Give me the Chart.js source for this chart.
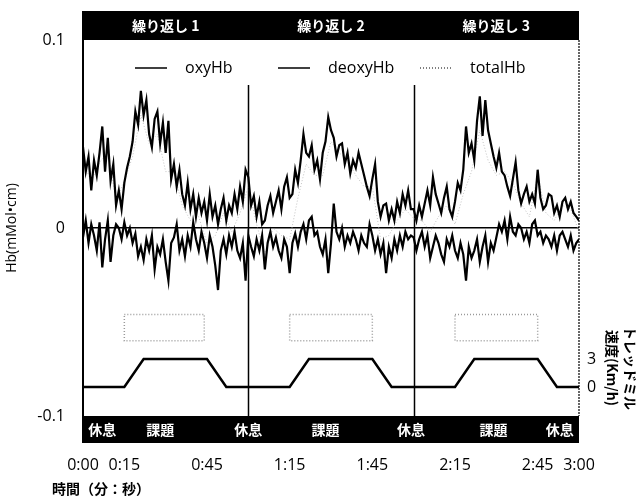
<!DOCTYPE html>
<html>
<head>
<meta charset="utf-8">
<script src="https://cdn.jsdelivr.net/npm/chart.js@4.4.1/dist/chart.umd.min.js"></script>
<style>
  html, body { margin: 0; padding: 0; background: #fff; }
  #wrap { width: 643px; height: 499px; }
</style>
</head>
<body>
<div id="wrap"><canvas id="hb_graph" width="643" height="499"></canvas></div>
<script>
// ---- data ----
// one sample per second, 0:00 .. 3:00
const oxyHb = [
  0.043, 0.030, 0.038, 0.020, 0.036, 0.028, 0.040, 0.054, 0.030, 0.048,
  0.025, 0.034, 0.012, 0.020, 0.010, 0.024, 0.032, 0.038, 0.046, 0.062,
  0.055, 0.073, 0.060, 0.068, 0.050, 0.043, 0.058, 0.062, 0.045, 0.056,
  0.040, 0.057, 0.026, 0.034, 0.022, 0.031, 0.018, 0.012, 0.024, 0.010,
  0.018, 0.006, 0.016, 0.008, 0.014, 0.004, 0.018, 0.006, 0.012, 0.002,
  0.010, 0.016, 0.004, 0.012, 0.008, 0.018, 0.010, 0.022, 0.014, 0.031,
  0.027, 0.012, 0.017, 0.006, 0.014, 0.002, 0.004, 0.012, 0.017, 0.008,
  0.014, 0.020, 0.010, 0.022, 0.027, 0.016, 0.018, 0.031, 0.024, 0.036,
  0.050, 0.040, 0.038, 0.044, 0.031, 0.036, 0.026, 0.040, 0.046, 0.059,
  0.052, 0.048, 0.038, 0.044, 0.045, 0.034, 0.040, 0.029, 0.036, 0.032,
  0.040, 0.034, 0.028, 0.022, 0.017, 0.026, 0.034, 0.014, 0.006, 0.012,
  0.013, 0.004, 0.010, 0.004, 0.014, 0.008, 0.018, 0.012, 0.020, 0.010,
  0.010, 0.004, 0.012, 0.006, 0.013, 0.020, 0.012, 0.027, 0.018, 0.013,
  0.008, 0.016, 0.022, 0.010, 0.006, 0.014, 0.024, 0.020, 0.031, 0.054,
  0.040, 0.045, 0.036, 0.057, 0.070, 0.049, 0.068, 0.052, 0.045, 0.038,
  0.032, 0.040, 0.030, 0.028, 0.022, 0.017, 0.026, 0.035, 0.020, 0.013,
  0.018, 0.022, 0.014, 0.018, 0.013, 0.031, 0.016, 0.010, 0.012, 0.018,
  0.017, 0.008, 0.012, 0.006, 0.014, 0.016, 0.010, 0.014, 0.008, 0.006,
  0.004
];
const deoxyHb = [
  -0.005, 0.004, -0.008, 0.002, -0.004, -0.012, 0.003, -0.021, -0.006, 0.004,
  -0.018, -0.004, 0.002, 0.000, -0.006, 0.003, -0.004, 0.000, -0.008, -0.003,
  -0.015, -0.010, -0.017, -0.006, -0.012, -0.004, -0.022, -0.010, -0.014, -0.006,
  -0.018, -0.028, -0.008, -0.005, 0.002, -0.012, -0.006, -0.015, -0.004, -0.010,
  0.003, -0.006, -0.012, -0.002, -0.008, -0.016, -0.004, -0.010, -0.020, -0.033,
  -0.012, -0.006, -0.014, -0.004, -0.010, -0.002, -0.012, -0.016, -0.008, -0.028,
  -0.004, -0.010, -0.015, -0.006, -0.012, -0.004, -0.022, -0.008, -0.002, -0.010,
  -0.005, -0.012, -0.016, -0.006, -0.010, -0.024, -0.008, -0.003, -0.010, -0.002,
  0.002, -0.006, 0.004, 0.006, -0.004, -0.002, -0.010, -0.014, -0.006, -0.024,
  -0.008, 0.013, -0.002, -0.006, 0.000, -0.010, -0.004, -0.008, -0.002, -0.006,
  -0.012, -0.004, -0.008, -0.010, 0.002, -0.004, -0.012, -0.006, -0.014, -0.008,
  -0.024, -0.010, -0.016, -0.006, -0.012, -0.004, -0.010, -0.002, -0.006, -0.004,
  -0.005, -0.012, -0.006, -0.002, -0.010, -0.004, -0.016, -0.010, -0.004, -0.008,
  -0.014, -0.018, -0.006, -0.010, -0.004, -0.012, -0.016, -0.008, -0.014, -0.028,
  -0.010, -0.016, -0.012, -0.006, -0.018, -0.010, -0.004, -0.018, -0.008, -0.012,
  -0.005, 0.002, -0.002, 0.004, -0.006, 0.006, -0.002, -0.004, 0.002, 0.000,
  -0.006, -0.002, -0.008, 0.002, 0.004, -0.004, -0.002, -0.008, -0.004, -0.006,
  -0.010, -0.004, -0.012, -0.004, -0.002, -0.006, -0.010, -0.004, -0.012, -0.008,
  -0.006
];
// totalHb, one sample every 3 s (faint dotted trace)
const totalTimes = [
  0, 3, 6, 9, 12, 15, 18, 21, 24, 27, 30, 33, 36, 39, 42, 45, 48, 51, 54, 57,
  60, 63, 66, 69, 72, 75, 78, 81, 84, 87, 90, 93, 96, 99, 102, 105, 108, 111, 114, 117,
  120, 123, 126, 129, 132, 135, 138, 141, 144, 147, 150, 153, 156, 159, 162, 165, 168, 171, 174, 177, 180
];
const totalHb = [
  0.035, 0.025, 0.035, 0.040, 0.015, 0.025, 0.038, 0.060, 0.045, 0.050,
  0.030, 0.030, 0.012, 0.004, 0.006, -0.008, -0.004, 0.008, -0.002, 0.008,
  0.022, 0.002, -0.014, 0.000, -0.004, -0.006, 0.016, 0.034, 0.028, 0.028,
  0.046, 0.040, 0.036, 0.028, 0.022, 0.022, -0.006, -0.004, 0.004, 0.010,
  0.005, 0.004, -0.002, 0.006, 0.012, 0.002, 0.018, 0.030, 0.052, 0.036,
  0.028, 0.030, 0.024, 0.013, 0.006, 0.028, 0.008, 0.004, 0.012, 0.010,
  -0.002
];
// treadmill speed (km/h)
const speedTimes  = [0, 15, 22, 45, 52, 75, 82, 105, 112, 135, 142, 165, 172, 180];
const speedValues = [0, 0, 3, 3, 0, 0, 3, 3, 0, 0, 3, 3, 0, 0];

const xTickValues  = [0, 15, 45, 75, 105, 135, 165, 180];
const yTickValues  = [-0.1, 0, 0.1];
const speedTicks   = [0, 3];

const repeatLabels = ["繰り返し 1", "繰り返し 2", "繰り返し 3"];
const repeatCenter = [30, 90, 150];
const dividerTimes = [60, 120];
const dividerTop   = 0.076;

const phaseLabels  = ["休息", "課題", "休息", "課題", "休息", "課題", "休息"];
const phaseTimes   = [7, 28, 60, 88, 119, 149, 173];

const boxStart = [15, 75, 135];
const boxEnd   = [44, 105, 165];
const boxTop   = -0.046;
const boxBottom = -0.060;

const FONT = '"Open Sans", "Noto Sans CJK JP", sans-serif';
const JFONT = '"Noto Sans CJK JP", sans-serif';

function fmt_time(s) {
    const m = Math.floor(s / 60);
    const r = s % 60;
    return m + ":" + (r < 10 ? "0" + r : r);
}

function to_points(xs, ys) {
    let pts = [];
    for (let i = 0; i < ys.length; i++) pts.push({x: xs[i], y: ys[i]});
    return pts;
}

let secs = [];
for (let i = 0; i < oxyHb.length; i++) secs.push(i);

const decor = {
    id: "decor",
    beforeDatasetsDraw(chart) {
        const ctx = chart.ctx;
        const xs = chart.scales.x, ys = chart.scales.y;
        ctx.save();
        // faint dotted boxes
        ctx.strokeStyle = "#9a9a9a";
        ctx.lineWidth = 1.5;
        ctx.setLineDash([1, 2]);
        for (let i = 0; i < boxStart.length; i++) {
            const x0 = xs.getPixelForValue(boxStart[i]), x1 = xs.getPixelForValue(boxEnd[i]);
            const y0 = ys.getPixelForValue(boxTop), y1 = ys.getPixelForValue(boxBottom);
            ctx.strokeRect(x0, y0, x1 - x0, y1 - y0);
        }
        ctx.setLineDash([]);
        // repeat dividers
        ctx.strokeStyle = "#000";
        ctx.lineWidth = 1.5;
        for (let t of dividerTimes) {
            const x = Math.round(xs.getPixelForValue(t)) + 0.5;
            ctx.beginPath();
            ctx.moveTo(x, ys.getPixelForValue(dividerTop));
            ctx.lineTo(x, chart.chartArea.bottom);
            ctx.stroke();
        }
        ctx.restore();
    },
    afterDraw(chart) {
        const ctx = chart.ctx;
        const area = chart.chartArea;
        const xs = chart.scales.x;
        ctx.save();
        // top band
        ctx.fillStyle = "#000";
        ctx.fillRect(area.left, 11, area.right - area.left, area.top - 11);
        ctx.fillStyle = "#fff";
        ctx.font = "bold 14px " + JFONT;
        ctx.textAlign = "center";
        ctx.textBaseline = "middle";
        for (let i = 0; i < repeatLabels.length; i++) {
            ctx.fillText(repeatLabels[i], xs.getPixelForValue(repeatCenter[i]), 26);
        }
        // bottom band
        ctx.fillStyle = "#000";
        ctx.fillRect(area.left, area.bottom, area.right - area.left, 27);
        ctx.fillStyle = "#fff";
        ctx.font = "bold 14px " + JFONT;
        for (let i = 0; i < phaseLabels.length; i++) {
            ctx.fillText(phaseLabels[i], xs.getPixelForValue(phaseTimes[i]), area.bottom + 14);
        }
        // frame
        ctx.strokeStyle = "#000";
        ctx.lineWidth = 2;
        ctx.beginPath();
        ctx.moveTo(area.left, 11);
        ctx.lineTo(area.left, area.bottom + 27);
        ctx.stroke();
        ctx.lineWidth = 1.2;
        ctx.setLineDash([2, 1]);
        ctx.beginPath();
        ctx.moveTo(area.right, area.top);
        ctx.lineTo(area.right, area.bottom);
        ctx.stroke();
        ctx.setLineDash([]);
        // legend inside plot
        ctx.font = "16px " + FONT;
        ctx.textAlign = "left";
        ctx.fillStyle = "#000";
        const legendX = [135, 278, 420];
        const sets = chart.data.datasets.slice(0, 3);
        for (let i = 0; i < sets.length; i++) {
            const ds = sets[i];
            ctx.strokeStyle = ds.legendColor || ds.borderColor;
            ctx.lineWidth = 1.5;
            ctx.setLineDash(ds.borderDash || []);
            ctx.beginPath();
            ctx.moveTo(legendX[i], 68);
            ctx.lineTo(legendX[i] + 32, 68);
            ctx.stroke();
            ctx.setLineDash([]);
            ctx.fillText(ds.label, legendX[i] + 50, 68);
        }
        // x title
        ctx.font = "bold 14px " + JFONT;
        ctx.fillText("時間（分：秒）", 52, 489);
        // right title (rotated)
        ctx.font = "bold 14px " + JFONT;
        ctx.textAlign = "center";
        const titles = [["トレッドミル", 630], ["速度(Km/h)", 612]];
        for (let t of titles) {
            ctx.save();
            ctx.translate(t[1], 368);
            ctx.rotate(Math.PI / 2);
            ctx.fillText(t[0], 0, 0);
            ctx.restore();
        }
        ctx.restore();
    }
};

window.addEventListener("load", function () {
    const ctx = document.getElementById("hb_graph").getContext("2d");
    new Chart(ctx, {
        type: "line",
        data: {
            datasets: [
                {
                    label: "oxyHb",
                    data: to_points(secs, oxyHb),
                    borderColor: "#000",
                    borderWidth: 2.2,
                    yAxisID: "y"
                },
                {
                    label: "deoxyHb",
                    data: to_points(secs, deoxyHb),
                    borderColor: "#000",
                    borderWidth: 2.2,
                    yAxisID: "y"
                },
                {
                    label: "totalHb",
                    data: to_points(totalTimes, totalHb),
                    borderColor: "rgba(170,170,170,0.7)",
                    legendColor: "#555",
                    borderWidth: 1,
                    borderDash: [1, 2],
                    yAxisID: "y"
                },
                {
                    label: "speed",
                    data: to_points(speedTimes, speedValues),
                    borderColor: "#000",
                    borderWidth: 2.5,
                    yAxisID: "y2"
                }
            ]
        },
        options: {
            responsive: false,
            animation: false,
            elements: {
                point: { radius: 0 },
                line: { tension: 0 }
            },
            layout: { padding: { left: 0, right: 0, top: 40, bottom: 0 } },
            scales: {
                x: {
                    type: "linear",
                    min: 0,
                    max: 180,
                    afterBuildTicks: (s) => { s.ticks = xTickValues.map(v => ({value: v})); },
                    afterFit: (s) => { s.height = 83; },
                    grid: { display: false, drawTicks: false },
                    border: { display: false },
                    ticks: {
                        padding: 40,
                        maxRotation: 0,
                        autoSkip: false,
                        color: "#000",
                        font: { family: FONT, size: 16 },
                        callback: (v) => fmt_time(v)
                    }
                },
                y: {
                    min: -0.1,
                    max: 0.1,
                    afterBuildTicks: (s) => { s.ticks = yTickValues.map(v => ({value: v})); },
                    afterFit: (s) => { s.width = 83; },
                    grid: {
                        drawTicks: false,
                        lineWidth: 1.5,
                        color: (c) => (c.tick && c.tick.value === 0) ? "#000" : "rgba(0,0,0,0)"
                    },
                    border: { display: false },
                    ticks: {
                        padding: 18,
                        color: "#000",
                        font: { family: FONT, size: 16 },
                        callback: (v) => (v === 0 ? "0" : String(v))
                    },
                    title: {
                        display: true,
                        text: "Hb(mMol•cm)",
                        color: "#000",
                        padding: { top: 4, bottom: 0 },
                        font: { family: FONT, size: 14 }
                    }
                },
                y2: {
                    position: "right",
                    min: -3.107,
                    max: 37.18,
                    afterBuildTicks: (s) => { s.ticks = speedTicks.map(v => ({value: v})); },
                    afterFit: (s) => { s.width = 64; },
                    grid: { display: false, drawTicks: false },
                    border: { display: false },
                    ticks: {
                        padding: 8,
                        color: "#000",
                        font: { family: FONT, size: 16 }
                    }
                }
            },
            plugins: {
                legend: { display: false },
                tooltip: { enabled: false }
            }
        },
        plugins: [decor]
    });
});
</script>
</body>
</html>
